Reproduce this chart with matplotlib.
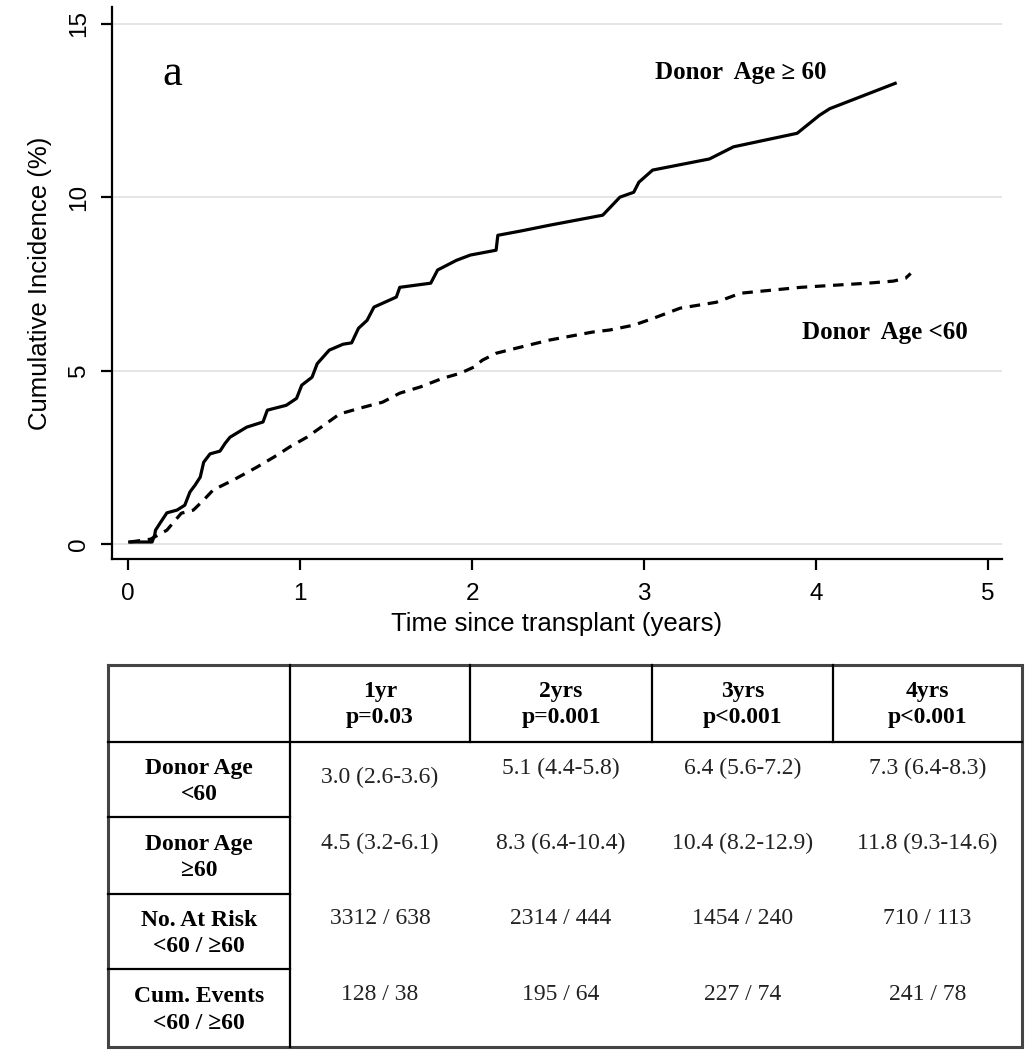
import numpy as np
import matplotlib.pyplot as plt

# cumulative incidence, donor age >= 60 (solid)
t_old = [0.01, 0.14, 0.155, 0.16, 0.186, 0.226, 0.285, 0.33, 0.36, 0.39, 0.42, 0.44, 0.477,
         0.535, 0.564, 0.593, 0.69, 0.785, 0.81, 0.92, 0.98, 1.01, 1.07, 1.10, 1.17, 1.25,
         1.30, 1.34, 1.39, 1.43, 1.56, 1.58, 1.76, 1.80, 1.91, 1.99, 2.14, 2.15, 2.28, 2.45,
         2.76, 2.86, 2.94, 2.97, 3.05, 3.38, 3.52, 3.89, 4.02, 4.08, 4.46]
ci_old = [0.06, 0.06, 0.26, 0.4, 0.6, 0.9, 0.98, 1.12, 1.5, 1.7, 1.93, 2.36, 2.6,
          2.68, 2.9, 3.08, 3.37, 3.52, 3.86, 4.0, 4.2, 4.58, 4.81, 5.2, 5.59, 5.76,
          5.8, 6.22, 6.45, 6.83, 7.12, 7.4, 7.52, 7.9, 8.18, 8.33, 8.47, 8.9, 9.02, 9.19,
          9.48, 10.0, 10.14, 10.43, 10.78, 11.1, 11.45, 11.84, 12.36, 12.55, 13.28]

# cumulative incidence, donor age < 60 (dashed)
t_young = [0.01, 0.13, 0.175, 0.226, 0.26, 0.31, 0.38, 0.44, 0.495, 0.61, 0.75, 0.866, 0.94,
           1.04, 1.157, 1.23, 1.35, 1.48, 1.58, 1.70, 1.83, 1.93, 2.01, 2.06, 2.14, 2.26,
           2.45, 2.70, 2.80, 2.94, 3.05, 3.21, 3.42, 3.56, 3.91, 4.30, 4.45, 4.52, 4.55]
ci_young = [0.06, 0.14, 0.26, 0.4, 0.6, 0.89, 0.98, 1.27, 1.56, 1.84, 2.22, 2.56, 2.8,
            3.08, 3.49, 3.75, 3.92, 4.09, 4.35, 4.53, 4.78, 4.92, 5.1, 5.3, 5.5, 5.65,
            5.88, 6.11, 6.17, 6.31, 6.5, 6.8, 6.97, 7.23, 7.4, 7.52, 7.58, 7.66, 7.8]

x_ticks = [0, 1, 2, 3, 4, 5]
y_ticks = [0, 5, 10, 15]

# table below the plot
col_headers = ["1yr\np=0.03", "2yrs\np=0.001", "3yrs\np<0.001", "4yrs\np<0.001"]
row_labels = ["Donor Age\n<60", "Donor Age\n\u226560", "No. At Risk\n<60 / \u226560",
              "Cum. Events\n<60 / \u226560"]
ci_lt60 = ["3.0 (2.6-3.6)", "5.1 (4.4-5.8)", "6.4 (5.6-7.2)", "7.3 (6.4-8.3)"]
ci_ge60 = ["4.5 (3.2-6.1)", "8.3 (6.4-10.4)", "10.4 (8.2-12.9)", "11.8 (9.3-14.6)"]
risk_lt60 = [3312, 2314, 1454, 710]
risk_ge60 = [638, 444, 240, 113]
events_lt60 = [128, 195, 227, 241]
events_ge60 = [38, 64, 74, 78]

W, H = 1030, 1050
fig = plt.figure(figsize=(W / 100, H / 100), dpi=100)

# ---- table (drawn in pixel coordinates on a full-figure axes)
tab = fig.add_axes([0, 0, 1, 1])
tab.set_xlim(0, W)
tab.set_ylim(H, 0)
tab.axis('off')

xs = [108, 290, 470, 652, 833, 1022]
ys = [665, 742, 817, 894, 969, 1047]
serif = 'Liberation Serif'
fs = 17

tab.plot([xs[0], xs[-1], xs[-1], xs[0], xs[0]], [ys[0], ys[0], ys[-1], ys[-1], ys[0]],
         color='#444444', lw=2.2, solid_joinstyle='miter')
tab.plot([xs[0], xs[-1]], [ys[1], ys[1]], color='black', lw=1.6)
tab.plot([xs[1], xs[1]], [ys[0], ys[-1]], color='black', lw=1.6)
for x in xs[2:-1]:
    tab.plot([x, x], [ys[0], ys[1]], color='black', lw=1.6)
for y in ys[2:-1]:
    tab.plot([xs[0], xs[1]], [y, y], color='black', lw=1.6)

for j, h in enumerate(col_headers):
    tab.text((xs[j + 1] + xs[j + 2]) / 2, (ys[0] + ys[1]) / 2 + 1, h, ha='center', va='center',
             family=serif, fontsize=fs, fontweight='bold', linespacing=1.3)
for i, lab in enumerate(row_labels):
    tab.text((xs[0] + xs[1]) / 2, (ys[i + 1] + ys[i + 2]) / 2 + 2, lab, ha='center',
             va='center', family=serif, fontsize=fs, fontweight='bold', linespacing=1.35)

cells = [ci_lt60, ci_ge60,
         [f"{a} / {b}" for a, b in zip(risk_lt60, risk_ge60)],
         [f"{a} / {b}" for a, b in zip(events_lt60, events_ge60)]]
value_y = [768, 843, 918, 995]
for i, row in enumerate(cells):
    for j, val in enumerate(row):
        y = value_y[i] + (9 if (i == 0 and j == 0) else 0)
        tab.text((xs[j + 1] + xs[j + 2]) / 2, y, val, ha='center', va='center',
                 family=serif, fontsize=fs, color='#222222')

# ---- cumulative incidence plot
ax = fig.add_axes([112 / W, 1 - 559 / H, 890 / W, 552 / H])
ax.patch.set_alpha(0)

ax.plot(t_old, ci_old, color='black', lw=2.3)
ax.plot(t_young, ci_young, color='black', lw=2.3, linestyle=(0, (3.3, 2.4)))

ax.set_xlim(-0.093, 5.081)
ax.set_ylim(-0.43, 15.48)
ax.set_xticks(x_ticks)
ax.set_yticks(y_ticks)
ax.grid(True, axis='y', color='#dedede', lw=1.1)
ax.set_axisbelow(True)

for s in ['top', 'right']:
    ax.spines[s].set_visible(False)
for s in ['left', 'bottom']:
    ax.spines[s].set_linewidth(1.6)

sans = 'Liberation Sans'
ax.tick_params(axis='both', width=1.6, length=8, labelsize=17.5, direction='out')
ax.tick_params(axis='y', labelrotation=90, pad=8)
ax.tick_params(axis='x', pad=9)
for lbl in ax.get_xticklabels() + ax.get_yticklabels():
    lbl.set_family(sans)
for lbl in ax.get_yticklabels():
    lbl.set_va('center')

ax.set_xlabel('Time since transplant (years)', family=sans, fontsize=18.5, labelpad=5)
ax.set_ylabel('Cumulative Incidence (%)', family=sans, fontsize=18.5, labelpad=11)

ax.text(0.256, 13.55, 'a', family=serif, fontsize=32, ha='center', va='center')
ax.text(3.56, 13.6, 'Donor  Age \u2265 60', family=serif, fontsize=18, fontweight='bold',
        ha='center', va='center')
ax.text(4.40, 6.1, 'Donor  Age <60', family=serif, fontsize=18, fontweight='bold',
        ha='center', va='center')

fig.savefig('out.png', dpi=100)
